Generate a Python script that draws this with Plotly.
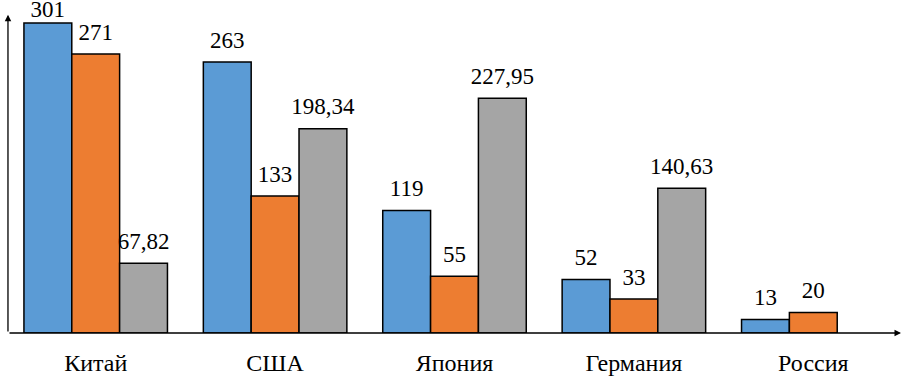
import plotly.graph_objects as go

categories = ["Китай", "США", "Япония", "Германия", "Россия"]
series1 = [301, 263, 119, 52, 13]
series2 = [271, 133, 55, 33, 20]
series3 = [67.82, 198.34, 227.95, 140.63, None]
colors = ["#5B9BD5", "#ED7D31", "#A5A5A5"]
SERIF = "Liberation Serif, Times New Roman, Tinos, serif"
YMAX = 313.6

def fmt(v):
    if v is None:
        return ""
    if float(v).is_integer():
        return str(int(v))
    return f"{v:.2f}".replace(".", ",")

fig = go.Figure()
all_series = [series1, series2, series3]
for i, vals in enumerate(all_series):
    fig.add_trace(go.Bar(
        x=categories, y=vals, name=f"Ряд {i+1}",
        offsetgroup=str(i), alignmentgroup="g",
        marker=dict(color=colors[i], line=dict(color="black", width=1.5)),
        hoverinfo="skip",
    ))
for i, vals in enumerate(all_series):
    # label padding: labels near the top of the chart area are tucked closer to the bar
    pad = [12 if (v is not None and v < YMAX - 20) else 0 for v in vals]
    fig.add_trace(go.Scatter(
        x=categories, y=vals, mode="markers+text", name=f"Ряд {i+1}",
        offsetgroup=str(i), alignmentgroup="g",
        marker=dict(size=pad, opacity=0),
        text=[fmt(v) for v in vals], textposition="top center",
        textfont=dict(family=SERIF, size=23, color="black"),
        cliponaxis=False, showlegend=False, hoverinfo="skip",
    ))

fig.update_layout(
    width=903, height=378,
    margin=dict(l=6, r=0, t=10, b=45),
    paper_bgcolor="white", plot_bgcolor="white",
    barmode="group", bargap=0.2, bargroupgap=0,
    scattermode="group", scattergap=0.2,
    showlegend=False,
    font=dict(family=SERIF, size=20, color="black"),
    xaxis=dict(showline=False, showgrid=False, ticks="", tickfont=dict(family=SERIF, size=24),
               ticklabelstandoff=13),
    yaxis=dict(range=[0, YMAX], showline=False, showgrid=False, showticklabels=False,
               zeroline=False),
)

# axes with arrows
fig.add_annotation(xref="x domain", yref="y domain", x=0.9978, y=0,
                   axref="x domain", ayref="y domain", ax=0.0022, ay=0,
                   showarrow=True, arrowhead=2, arrowsize=1, arrowwidth=1.3,
                   arrowcolor="black", text="")
fig.add_annotation(xref="x domain", yref="y domain", x=0.0022, y=0.985,
                   axref="x domain", ayref="y domain", ax=0.0022, ay=0,
                   showarrow=True, arrowhead=2, arrowsize=1, arrowwidth=1.3,
                   arrowcolor="black", text="")

fig.write_html("out.html", config={"displayModeBar": False},
               post_script="document.body.style.margin='0';document.body.style.overflow='hidden';")
